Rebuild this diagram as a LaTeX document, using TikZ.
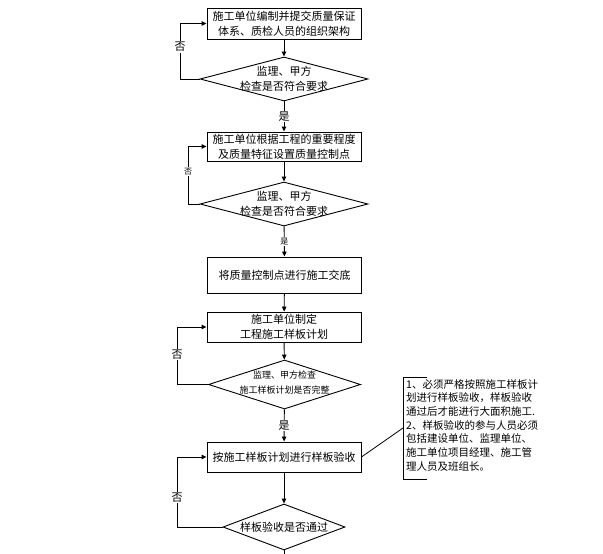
\documentclass[tikz,border=0pt]{standalone}
\usepackage{fontspec}
\setmainfont{Noto Sans CJK SC}
\usetikzlibrary{shapes.geometric,arrows.meta}
\newcommand{\fsz}[2]{\fontsize{#1pt}{#2pt}\selectfont}
\tikzset{
  box/.style={draw, line width=0.9pt, minimum width=154pt, inner sep=0pt, align=center, font=\fsz{11}{15}},
  dia/.style={draw, shape=diamond, inner sep=0pt, line width=0.9pt},
  diatext/.style={align=center, inner sep=0pt, font=\fsz{11}{15}},
  arr/.style={-{Triangle[length=5pt,width=4.5pt]}, line width=0.9pt},
  lbl/.style={fill=white, inner sep=1pt, font=\fsz{11}{13}},
  slbl/.style={fill=white, inner sep=1pt, font=\fsz{8}{10}},
  plain/.style={line width=0.8pt}
}
\begin{document}
\begin{tikzpicture}[x=1pt,y=-1pt]
\useasboundingbox (0,0) rectangle (603,554);
% boxes
\node[box, minimum height=31pt] (b1) at (284,23.5) {施工单位编制并提交质量保证\\体系、质检人员的组织架构};
\node[box, minimum height=29pt] (b2) at (284,146.5) {施工单位根据工程的重要程度\\及质量特征设置质量控制点};
\node[box, minimum height=36pt] (b3) at (284.5,275) {将质量控制点进行施工交底};
\node[box, minimum height=30pt] (b4) at (284,327) {施工单位制定\\工程施工样板计划};
\node[box, minimum height=30pt] (b5) at (284,457) {按施工样板计划进行样板验收};
% diamonds
\node[dia, minimum width=168pt, minimum height=44pt] (d1) at (284,79) {};
\node[diatext] (d1t) at (284,79) {监理、甲方\\检查是否符合要求};
\node[dia, minimum width=168pt, minimum height=44pt] (d2) at (284,204) {};
\node[diatext] (d2t) at (284,204) {监理、甲方\\检查是否符合要求};
\node[dia, minimum width=152pt, minimum height=49pt] (d3) at (284.5,384.5) {};
\node[diatext, font=\fsz{9}{15}] (d3t) at (284.5,383) {监理、甲方检查\\施工样板计划是否完整};
\node[dia, minimum width=122pt, minimum height=46pt] (d4) at (284,527) {};
\node[diatext] (d4t) at (284,527) {样板验收是否通过};
\coordinate (end) at (284,575);
% main flow
\draw[arr] (b1) -- (d1);
\draw[arr] (d1) -- node[lbl]{是} (b2);
\draw[arr] (b2) -- (d2);
\draw[arr] (d2) -- node[slbl]{是} (b3);
\draw[arr] (b3) -- (b4);
\draw[arr] (b4) -- (d3);
\draw[arr] (d3) -- node[lbl]{是} (b5);
\draw[arr] (b5) -- (d4);
\draw[arr] (d4) -- (end);
% loops
\coordinate (l1) at (180,79);
\coordinate (l2) at (188,204);
\coordinate (l3) at (177,384.5);
\coordinate (l4) at (177,527);
\draw[arr] (d1.west) -- (l1) |- node[lbl,pos=0.29]{否} (b1.west);
\draw[arr] (d2.west) -- (l2) |- node[slbl,pos=0.28]{否} (b2.west);
\draw[arr] (d3.west) -- (l3) |- node[lbl,pos=0.26]{否} (b4.west);
\draw[arr] (d4.west) -- (l4) |- node[lbl,pos=0.21]{否} (b5.west);
% annotation
\coordinate (a1) at (427,377);
\coordinate (a2) at (403,377);
\coordinate (a3) at (403,479);
\coordinate (a4) at (427,479);
\coordinate (am) at (403,428);
\draw[plain] (a1) -- (a2) -- (a3) -- (a4);
\draw[plain] (b5.east) -- (am);
\node[anchor=north west, inner sep=0pt, align=left, font=\fsz{10.5}{13.7}] (ann) at (406,379) {1、必须严格按照施工样板计\\划进行样板验收，样板验收\\通过后才能进行大面积施工.\\2、样板验收的参与人员必须\\包括建设单位、监理单位、\\施工单位项目经理、施工管\\理人员及班组长。};
\end{tikzpicture}
\end{document}
